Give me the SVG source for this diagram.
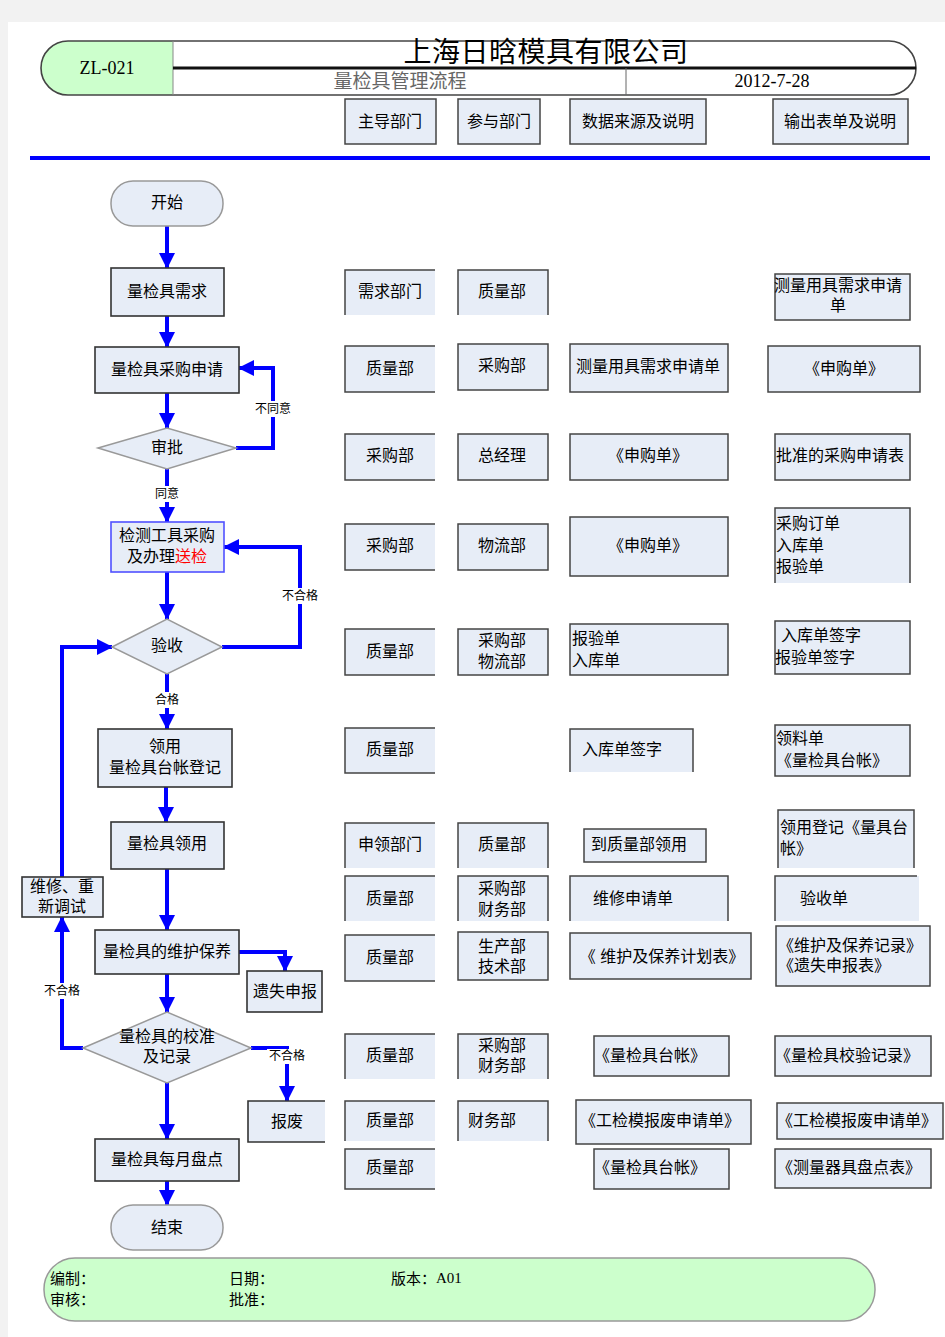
<svg xmlns="http://www.w3.org/2000/svg" width="945" height="1337" viewBox="0 0 945 1337">
<style>
.t{font-family:"Liberation Sans","Noto Sans CJK SC",sans-serif;font-size:16px;fill:#000;text-anchor:middle;dominant-baseline:central}
.l{text-anchor:start}
.lb{font-family:"Liberation Sans","Noto Sans CJK SC",sans-serif;font-size:12px;fill:#000;text-anchor:middle;dominant-baseline:central}
.sf{font-family:"Liberation Serif","Noto Sans CJK SC",serif;dominant-baseline:central;text-anchor:middle;fill:#000}
.bx{fill:#e7edf7;stroke:#444;stroke-width:1.5}
.bf{fill:#e7edf7;stroke:none}
.bs{fill:none;stroke:#444;stroke-width:1.5}
.fb{fill:#e7edf7;stroke:#333;stroke-width:1.6}
.fg{fill:#e7edf7;stroke:#999;stroke-width:1.5}
.c{fill:none;stroke:#0000ff;stroke-width:4;marker-end:url(#ah)}
</style>
<defs>
<marker id="ah" markerUnits="userSpaceOnUse" markerWidth="16" markerHeight="16" viewBox="0 0 16 16" refX="15" refY="8" orient="auto">
<path d="M0,0 L16,8 L0,16 z" fill="#0000ff"/>
</marker>
</defs>
<rect x="0" y="0" width="945" height="1337" fill="#f2f2f2"/>
<rect x="8" y="22" width="937" height="1315" fill="#ffffff"/>

<g id="header">
<rect x="41" y="41" width="875" height="54" rx="27" fill="#ffffff"/>
<path d="M173,41 H68 A27,27 0 0 0 68,95 H173 Z" fill="#ccffcc"/>
<rect x="41" y="41" width="875" height="54" rx="27" fill="none" stroke="#444" stroke-width="1.6"/>
<line x1="173" y1="41" x2="173" y2="95" stroke="#888" stroke-width="1"/>
<line x1="173" y1="68" x2="916" y2="68" stroke="#111" stroke-width="3"/>
<line x1="626" y1="68" x2="626" y2="95" stroke="#666" stroke-width="1"/>
<text class="sf" x="107" y="68" font-size="18">ZL-021</text>
<text class="t" x="546" y="52" style="font-size:28px;letter-spacing:0.5px">上海日晗模具有限公司</text>
<text class="t" x="400" y="81" style="font-size:19px;fill:#666">量检具管理流程</text>
<text class="sf" x="772" y="81" font-size="18">2012-7-28</text>
</g>

<g id="col-headers">
<g id="h1"><rect class="bx" x="345" y="99" width="91" height="45"/><text class="t" x="390" y="121">主导部门</text></g>
<g id="h2"><rect class="bx" x="458" y="99" width="82" height="45"/><text class="t" x="499" y="121">参与部门</text></g>
<g id="h3"><rect class="bx" x="570" y="99" width="136" height="45"/><text class="t" x="638" y="121">数据来源及说明</text></g>
<g id="h4"><rect class="bx" x="773" y="99" width="135" height="45"/><text class="t" x="840" y="121">输出表单及说明</text></g>
</g>
<line x1="30" y1="158" x2="930" y2="158" stroke="#0000ff" stroke-width="4"/>

<g id="connectors">
<path class="c" d="M167,226 V268"/>
<path class="c" d="M167,316 V347"/>
<path class="c" d="M167,393 V428"/>
<path class="c" d="M236,448 H273 V368 H239"/>
<path class="c" d="M167,469 V522"/>
<path class="c" d="M167,572 V619"/>
<path class="c" d="M222,647 H300 V547 H224"/>
<path class="c" d="M167,674 V729"/>
<path class="c" d="M166,787 V822"/>
<path class="c" d="M167,869 V930"/>
<path class="c" d="M239,952 H285 V971"/>
<path class="c" d="M167,974 V1012"/>
<path class="c" d="M83,1048 H62 V917"/>
<path class="c" d="M62,877 V647 H112"/>
<path class="c" d="M251,1048 H287 V1101"/>
<path class="c" d="M167,1083 V1139"/>
<path class="c" d="M167,1181 V1205"/>
<g id="conn-labels">
<rect x="253" y="401" width="40" height="16" fill="#fff"/><text class="lb" x="273" y="409">不同意</text>
<rect x="153" y="486" width="28" height="16" fill="#fff"/><text class="lb" x="167" y="494">同意</text>
<rect x="280" y="588" width="40" height="16" fill="#fff"/><text class="lb" x="300" y="596">不合格</text>
<rect x="153" y="692" width="28" height="16" fill="#fff"/><text class="lb" x="167" y="700">合格</text>
<rect x="42" y="983" width="40" height="16" fill="#fff"/><text class="lb" x="62" y="991">不合格</text>
<rect x="267" y="1049" width="40" height="15" fill="#fff"/><text class="lb" x="287" y="1056">不合格</text>
</g>
</g>

<g id="flow">
<g id="start"><rect class="fg" x="111" y="181" width="112" height="45" rx="22"/><text class="t" x="167" y="202">开始</text></g>
<g id="n-need"><rect class="fb" x="111" y="268" width="113" height="48"/><text class="t" x="167" y="291">量检具需求</text></g>
<g id="n-apply"><rect class="fb" x="95" y="347" width="144" height="46"/><text class="t" x="167" y="369">量检具采购申请</text></g>
<g id="d-approve"><path class="fg" d="M98,448 L167,428 L236,448 L167,469 Z"/><text class="t" x="167" y="447">审批</text></g>
<g id="n-purchase"><rect x="111" y="522" width="113" height="50" fill="#e7edf7" stroke="#5050ff" stroke-width="1.6"/>
<text class="t" x="167" y="535">检测工具采购</text>
<text class="t" x="167" y="556">及办理<tspan fill="#ff0000">送检</tspan></text></g>
<g id="d-accept"><path class="fg" d="M112,647 L167,619 L222,647 L167,674 Z"/><text class="t" x="167" y="645">验收</text></g>
<g id="n-register"><rect class="fb" x="98" y="729" width="134" height="58"/><text class="t" x="165" y="746">领用</text><text class="t" x="165" y="767">量检具台帐登记</text></g>
<g id="n-use"><rect class="fb" x="111" y="822" width="113" height="47"/><text class="t" x="167" y="843">量检具领用</text></g>
<g id="n-repair"><rect class="fb" x="22" y="877" width="81" height="40"/><text class="t" x="62" y="886">维修、重</text><text class="t" x="62" y="906">新调试</text></g>
<g id="n-maint"><rect class="fb" x="95" y="930" width="144" height="44"/><text class="t" x="167" y="951">量检具的维护保养</text></g>
<g id="n-lost"><rect class="fb" x="247" y="971" width="75" height="41"/><text class="t" x="285" y="991">遗失申报</text></g>
<g id="d-calib"><path class="fg" d="M83,1048 L167,1012 L251,1048 L167,1083 Z"/><text class="t" x="167" y="1036">量检具的校准</text><text class="t" x="167" y="1056">及记录</text></g>
<g id="n-scrap"><rect class="bf" x="248" y="1101" width="77" height="41"/><path d="M325,1101 H248 V1142 H325" fill="none" stroke="#333" stroke-width="1.6"/><text class="t" x="287" y="1121">报废</text></g>
<g id="n-monthly"><rect class="fb" x="95" y="1139" width="144" height="42"/><text class="t" x="167" y="1159">量检具每月盘点</text></g>
<g id="end"><rect class="fg" x="111" y="1205" width="112" height="45" rx="22"/><text class="t" x="167" y="1227">结束</text></g>
</g>

<g id="table">
<g id="r1c1"><rect class="bf" x="345" y="270" width="90" height="45"/><path class="bs" d="M345,315 V270 H435"/><text class="t" x="390" y="291">需求部门</text></g>
<g id="r1c2"><rect class="bf" x="458" y="270" width="90" height="45"/><path class="bs" d="M458,315 V270 H548 V315"/><text class="t" x="502" y="291">质量部</text></g>
<g id="r1c4"><rect class="bx" x="775" y="274" width="135" height="46"/><text class="t" x="838" y="285">测量用具需求申请</text><text class="t" x="838" y="305">单</text></g>
<g id="r2c1"><rect class="bf" x="345" y="346" width="90" height="46"/><path class="bs" d="M435,346 H345 V392 H435"/><text class="t" x="390" y="368">质量部</text></g>
<g id="r2c2"><rect class="bx" x="458" y="344" width="90" height="46"/><text class="t" x="502" y="365">采购部</text></g>
<g id="r2c3"><rect class="bx" x="570" y="344" width="158" height="48"/><text class="t" x="648" y="366">测量用具需求申请单</text></g>
<g id="r2c4"><rect class="bx" x="768" y="346" width="152" height="46"/><text class="t" x="844" y="368">《申购单》</text></g>
<g id="r3c1"><rect class="bf" x="345" y="434" width="90" height="46"/><path class="bs" d="M435,434 H345 V480 H435"/><text class="t" x="390" y="455">采购部</text></g>
<g id="r3c2"><rect class="bx" x="458" y="434" width="90" height="46"/><text class="t" x="502" y="455">总经理</text></g>
<g id="r3c3"><rect class="bx" x="570" y="434" width="158" height="46"/><text class="t" x="648" y="455">《申购单》</text></g>
<g id="r3c4"><rect class="bx" x="775" y="434" width="135" height="46"/><text class="t" x="840" y="455">批准的采购申请表</text></g>
<g id="r4c1"><rect class="bf" x="345" y="524" width="90" height="46"/><path class="bs" d="M435,524 H345 V570 H435"/><text class="t" x="390" y="545">采购部</text></g>
<g id="r4c2"><rect class="bx" x="458" y="524" width="90" height="46"/><text class="t" x="502" y="545">物流部</text></g>
<g id="r4c3"><rect class="bx" x="570" y="517" width="158" height="59"/><text class="t" x="648" y="545">《申购单》</text></g>
<g id="r4c4"><rect class="bf" x="775" y="508" width="135" height="75"/><path class="bs" d="M775,583 V508 H910 V583"/><text class="t l" x="776" y="523">采购订单</text><text class="t l" x="776" y="545">入库单</text><text class="t l" x="776" y="566">报验单</text></g>
<g id="r5c1"><rect class="bf" x="345" y="629" width="90" height="46"/><path class="bs" d="M435,629 H345 V675 H435"/><text class="t" x="390" y="651">质量部</text></g>
<g id="r5c2"><rect class="bx" x="458" y="629" width="90" height="46"/><text class="t" x="502" y="640">采购部</text><text class="t" x="502" y="661">物流部</text></g>
<g id="r5c3"><rect class="bx" x="570" y="624" width="158" height="51"/><text class="t l" x="572" y="638">报验单</text><text class="t l" x="572" y="660">入库单</text></g>
<g id="r5c4"><rect class="bx" x="775" y="621" width="135" height="53"/><text class="t l" x="781" y="635">入库单签字</text><text class="t l" x="775" y="657">报验单签字</text></g>
<g id="r6c1"><rect class="bf" x="345" y="728" width="90" height="45"/><path class="bs" d="M435,728 H345 V773 H435"/><text class="t" x="390" y="749">质量部</text></g>
<g id="r6c3"><rect class="bf" x="570" y="729" width="123" height="43"/><path class="bs" d="M570,772 V729 H693 V772"/><text class="t l" x="582" y="749">入库单签字</text></g>
<g id="r6c4"><rect class="bx" x="775" y="725" width="135" height="51"/><text class="t l" x="776" y="738">领料单</text><text class="t l" x="776" y="760">《量检具台帐》</text></g>
<g id="r7c1"><rect class="bf" x="345" y="823" width="90" height="45"/><path class="bs" d="M345,868 V823 H435"/><text class="t" x="390" y="844">申领部门</text></g>
<g id="r7c2"><rect class="bf" x="458" y="823" width="90" height="45"/><path class="bs" d="M458,868 V823 H548 V868"/><text class="t" x="502" y="844">质量部</text></g>
<g id="r7c3"><rect class="bx" x="584" y="829" width="122" height="33"/><text class="t l" x="591" y="844">到质量部领用</text></g>
<g id="r7c4"><rect class="bf" x="778" y="810" width="136" height="58"/><path class="bs" d="M778,868 V810 H914 V868"/><text class="t l" x="780" y="827">领用登记《量具台</text><text class="t l" x="780" y="848">帐》</text></g>
<g id="r8c1"><rect class="bf" x="345" y="876" width="90" height="45"/><path class="bs" d="M345,921 V876 H435"/><text class="t" x="390" y="898">质量部</text></g>
<g id="r8c2"><rect class="bf" x="458" y="876" width="90" height="45"/><path class="bs" d="M458,921 V876 H548 V921"/><text class="t" x="502" y="888">采购部</text><text class="t" x="502" y="909">财务部</text></g>
<g id="r8c3"><rect class="bf" x="570" y="876" width="158" height="45"/><path class="bs" d="M570,921 V876 H728 V921"/><text class="t l" x="593" y="898">维修申请单</text></g>
<g id="r8c4"><rect class="bf" x="775" y="876" width="144" height="45"/><path class="bs" d="M775,921 V876 H917"/><text class="t l" x="800" y="898">验收单</text></g>
<g id="r9c1"><rect class="bf" x="345" y="935" width="90" height="46"/><path class="bs" d="M435,935 H345 V981 H435"/><text class="t" x="390" y="957">质量部</text></g>
<g id="r9c2"><rect class="bx" x="458" y="932" width="90" height="48"/><text class="t" x="502" y="946">生产部</text><text class="t" x="502" y="966">技术部</text></g>
<g id="r9c3"><rect class="bx" x="570" y="933" width="181" height="46"/><text class="t" x="662" y="956">《 维护及保养计划表》</text></g>
<g id="r9c4"><rect class="bx" x="776" y="926" width="154" height="60"/><text class="t l" x="778" y="945">《维护及保养记录》</text><text class="t l" x="778" y="965">《遗失申报表》</text></g>
<g id="r10c1"><rect class="bf" x="345" y="1034" width="90" height="45"/><path class="bs" d="M345,1079 V1034 H435"/><text class="t" x="390" y="1055">质量部</text></g>
<g id="r10c2"><rect class="bf" x="458" y="1034" width="90" height="45"/><path class="bs" d="M458,1079 V1034 H548 V1079"/><text class="t" x="502" y="1045">采购部</text><text class="t" x="502" y="1065">财务部</text></g>
<g id="r10c3"><rect class="bx" x="594" y="1036" width="135" height="40"/><text class="t" x="650" y="1055">《量检具台帐》</text></g>
<g id="r10c4"><rect class="bx" x="775" y="1036" width="156" height="40"/><text class="t" x="847" y="1055">《量检具校验记录》</text></g>
<g id="r11c1"><rect class="bf" x="345" y="1101" width="90" height="40"/><path class="bs" d="M345,1141 V1101 H435"/><text class="t" x="390" y="1120">质量部</text></g>
<g id="r11c2"><rect class="bf" x="458" y="1101" width="90" height="40"/><path class="bs" d="M458,1141 V1101 H548 V1141"/><text class="t l" x="468" y="1120">财务部</text></g>
<g id="r11c3"><rect class="bx" x="576" y="1100" width="175" height="44"/><text class="t" x="660" y="1120">《工检模报废申请单》</text></g>
<g id="r11c4"><rect class="bx" x="777" y="1103" width="166" height="36"/><text class="t" x="857" y="1120">《工检模报废申请单》</text></g>
<g id="r12c1"><rect class="bf" x="345" y="1149" width="90" height="40"/><path class="bs" d="M435,1149 H345 V1189 H435"/><text class="t" x="390" y="1167">质量部</text></g>
<g id="r12c3"><rect class="bx" x="594" y="1149" width="135" height="40"/><text class="t" x="650" y="1167">《量检具台帐》</text></g>
<g id="r12c4"><rect class="bx" x="775" y="1149" width="156" height="39"/><text class="t" x="849" y="1167">《测量器具盘点表》</text></g>
</g>

<g id="footer">
<rect x="44" y="1258" width="831" height="63" rx="31" fill="#ccffcc" stroke="#999" stroke-width="1.5"/>
<text class="t l" x="50" y="1278" style="font-size:15px">编制：</text>
<text class="t l" x="229" y="1278" style="font-size:15px">日期：</text>
<text class="t l" x="391" y="1278" style="font-size:15px">版本：<tspan font-family="Liberation Serif">A01</tspan></text>
<text class="t l" x="50" y="1299" style="font-size:15px">审核：</text>
<text class="t l" x="229" y="1299" style="font-size:15px">批准：</text>
</g>
</svg>
